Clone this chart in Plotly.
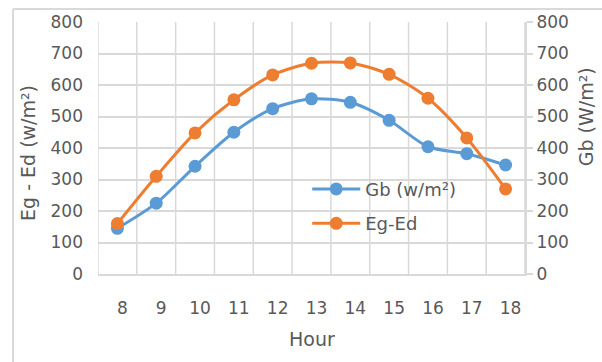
import plotly.graph_objects as go

hours = ["8", "9", "10", "11", "12", "13", "14", "15", "16", "17", "18"]
gb = [145, 225, 342, 450, 525, 556, 545, 488, 404, 382, 346]
eg_ed = [160, 310, 448, 553, 632, 669, 670, 634, 558, 432, 270]
y_ticks = [0, 100, 200, 300, 400, 500, 600, 700, 800]

BLUE = "#5B9BD5"
ORANGE = "#ED7D31"
GRID = "#D9D9D9"
TXT = "#595959"
FONT = "DejaVu Sans"
FS = 17
TFS = 19

x = list(range(len(hours)))

fig = go.Figure()
fig.add_trace(go.Scatter(
    x=x, y=gb, name="Gb (w/m²)", mode="lines+markers",
    line=dict(color=BLUE, width=3, shape="spline", smoothing=0.8),
    marker=dict(color=BLUE, size=13), legendgroup="a", yaxis="y"))
fig.add_trace(go.Scatter(
    x=x, y=eg_ed, name="Eg-Ed", mode="lines+markers",
    line=dict(color=ORANGE, width=3, shape="spline", smoothing=0.8),
    marker=dict(color=ORANGE, size=13), legendgroup="b", yaxis="y2"))

fig.update_layout(
    width=602, height=362,
    margin=dict(l=98, r=77, t=20, b=88),
    paper_bgcolor="white", plot_bgcolor="white",
    font=dict(family=FONT, size=FS, color=TXT),
    showlegend=True,
    legend=dict(x=0.49, y=0.41, xanchor="left", yanchor="top",
                bgcolor="rgba(0,0,0,0)", itemwidth=48, tracegroupgap=8,
                font=dict(family=FONT, size=FS + 1, color=TXT)),
    xaxis=dict(range=[-0.5, 10.5], tickmode="array", tickvals=x, ticktext=hours,
               showgrid=False, zeroline=False, showline=True, linecolor=GRID,
               linewidth=2, ticks="", ticklabelstandoff=18, ticklabelshift=5,
               tickfont=dict(family=FONT, size=FS, color=TXT)),
    yaxis=dict(range=[0, 800], tickvals=y_ticks, showgrid=True, gridcolor=GRID,
               gridwidth=1.5, zeroline=False, showline=False, ticks="",
               ticklabelstandoff=14,
               tickfont=dict(family=FONT, size=FS, color=TXT)),
    yaxis2=dict(range=[0, 800], tickvals=y_ticks, overlaying="y", side="right",
                showgrid=False, zeroline=False, showline=True, linecolor=GRID,
                linewidth=2, ticks="outside", ticklen=6, tickcolor=GRID,
                tickwidth=2,
                tickfont=dict(family=FONT, size=FS, color=TXT)),
)

# vertical category gridlines
for i in range(len(hours) + 1):
    fig.add_shape(type="line", xref="x", yref="paper", x0=i - 0.5, x1=i - 0.5,
                  y0=0, y1=1, line=dict(color=GRID, width=1.5), layer="below")

# chart border (left and top edges)
top = 1 + 13 / 254
fig.add_shape(type="line", xref="paper", yref="paper", x0=-85/427, x1=-85/427,
              y0=-90/254, y1=top, line=dict(color=GRID, width=2))
fig.add_shape(type="line", xref="paper", yref="paper", x0=-85/427, x1=1.2,
              y0=top, y1=top, line=dict(color=GRID, width=2))

fig.add_annotation(text="Eg - Ed (w/m²)", xref="paper", yref="paper",
                   x=-70/427, y=(274 - 152)/254, textangle=-90, showarrow=False,
                   xanchor="center", yanchor="middle",
                   font=dict(family=FONT, size=TFS, color=TXT))
fig.add_annotation(text="Gb (W/m²)", xref="paper", yref="paper",
                   x=1 + 61/427, y=(274 - 116)/254, textangle=-90, showarrow=False,
                   xanchor="center", yanchor="middle",
                   font=dict(family=FONT, size=TFS, color=TXT))
fig.add_annotation(text="Hour", xref="paper", yref="paper",
                   x=0.5, y=-(340 - 274)/254, showarrow=False,
                   xanchor="center", yanchor="middle",
                   font=dict(family=FONT, size=TFS, color=TXT))

fig.write_html("out.html")
